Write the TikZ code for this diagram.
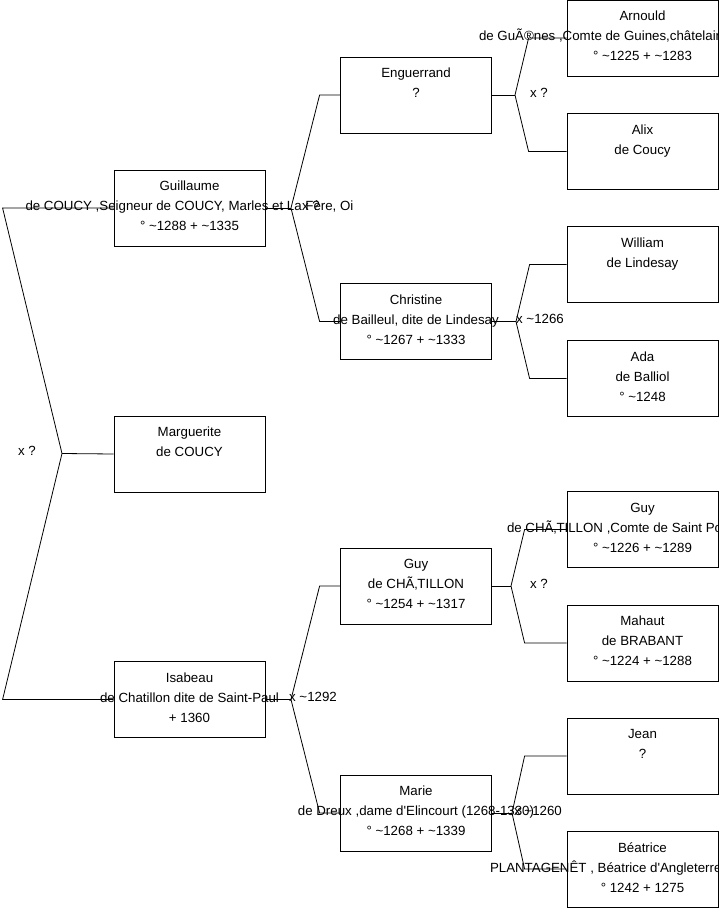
\documentclass[tikz,border=0pt]{standalone}
\usepackage{fontspec}
\setmainfont{Liberation Sans}
\newcommand{\circa}{\textasciitilde}

\begin{document}
\begin{tikzpicture}[
    x=1pt, y=-1pt,
    person/.style={
        rectangle, draw, line width=0.8pt,
        minimum width=151pt, minimum height=76pt, inner sep=0pt
    },
    ptext/.style={
        anchor=north, align=center, inner sep=0pt,
        font=\fontsize{13.3}{20}\selectfont
    },
    marr/.style={
        anchor=base, inner sep=0pt,
        font=\fontsize{13.3}{15}\selectfont
    },
    link/.style={line width=0.8pt},
]
\useasboundingbox (0,0) rectangle (719,908);

% generation 1
\node[person] (gui) at (189.5,208) {};
\node[person] (mrg) at (189.5,454) {};
\node[person] (isa) at (189.5,699.5) {};
% generation 2
\node[person] (eng) at (416,95) {};
\node[person] (chr) at (416,321.5) {};
\node[person] (guy) at (416,586) {};
\node[person] (mar) at (416,813) {};
% generation 3
\node[person] (arn) at (642.5,38) {};
\node[person] (alx) at (642.5,151.5) {};
\node[person] (wil) at (642.5,264.5) {};
\node[person] (ada) at (642.5,378.5) {};
\node[person] (gyp) at (642.5,529.5) {};
\node[person] (mah) at (642.5,643) {};
\node[person] (jea) at (642.5,756) {};
\node[person] (bea) at (642.5,869) {};

% texts
\node[ptext] (gui-t) at ([yshift=-11.5pt]gui.north)
    {Guillaume\\de COUCY ,Seigneur de COUCY, Marles et La Fère, Oi\\° \circa1288 + \circa1335};
\node[ptext] (mrg-t) at ([yshift=-11.5pt]mrg.north) {Marguerite\\de COUCY};
\node[ptext] (isa-t) at ([yshift=-11.5pt]isa.north)
    {Isabeau\\de Chatillon dite de Saint-Paul\\+ 1360};
\node[ptext] (eng-t) at ([yshift=-11.5pt]eng.north) {Enguerrand\\?};
\node[ptext] (chr-t) at ([yshift=-11.5pt]chr.north)
    {Christine\\de Bailleul, dite de Lindesay\\° \circa1267 + \circa1333};
\node[ptext] (guy-t) at ([yshift=-11.5pt]guy.north)
    {Guy\\de CHÃ‚TILLON\\° \circa1254 + \circa1317};
\node[ptext] (mar-t) at ([yshift=-11.5pt]mar.north)
    {Marie\\de Dreux ,dame d\textquotesingle Elincourt (1268-1330)\\° \circa1268 + \circa1339};
\node[ptext] (arn-t) at ([yshift=-11.5pt]arn.north)
    {Arnould\\\makebox[327pt][l]{de GuÃ®nes ,Comte de Guines,châtelain}\\° \circa1225 + \circa1283};
\node[ptext] (alx-t) at ([yshift=-11.5pt]alx.north) {Alix\\de Coucy};
\node[ptext] (wil-t) at ([yshift=-11.5pt]wil.north) {William\\de Lindesay};
\node[ptext] (ada-t) at ([yshift=-11.5pt]ada.north) {Ada\\de Balliol\\° \circa1248};
\node[ptext] (gyp-t) at ([yshift=-11.5pt]gyp.north)
    {Guy\\\makebox[271pt][l]{de CHÃ‚TILLON ,Comte de Saint Pol}\\° \circa1226 + \circa1289};
\node[ptext] (mah-t) at ([yshift=-11.5pt]mah.north)
    {Mahaut\\de BRABANT\\° \circa1224 + \circa1288};
\node[ptext] (jea-t) at ([yshift=-11.5pt]jea.north) {Jean\\?};
\node[ptext] (bea-t) at ([yshift=-11.5pt]bea.north)
    {Béatrice\\\makebox[305pt][l]{PLANTAGENÊT , Béatrice d\textquotesingle Angleterre}\\° 1242 + 1275};

% forks
\coordinate (f0) at (62,453.5);
\coordinate (f1) at (291,208);
\coordinate (f2) at (291,699.5);
\coordinate (f3) at (515,95);
\coordinate (f4) at (516,321.5);
\coordinate (f5) at (511,586);
\coordinate (f6) at (512,813);

\draw[link] (mrg.west) -- (f0);
\draw[link] (gui.west) -- ([xshift=-111pt]gui.west) -- (f0)
    -- ([xshift=-111pt]isa.west) -- (isa.west);
\draw[link] (gui.east) -- (f1);
\draw[link] (eng.west) -- ([xshift=-20.5pt]eng.west) -- (f1)
    -- ([xshift=-20.5pt]chr.west) -- (chr.west);
\draw[link] (isa.east) -- (f2);
\draw[link] (guy.west) -- ([xshift=-20.5pt]guy.west) -- (f2)
    -- ([xshift=-20.5pt]mar.west) -- (mar.west);
\draw[link] (eng.east) -- (f3);
\draw[link] (arn.west) -- ([xshift=-38pt]arn.west) -- (f3)
    -- ([xshift=-38pt]alx.west) -- (alx.west);
\draw[link] (chr.east) -- (f4);
\draw[link] (wil.west) -- ([xshift=-37pt]wil.west) -- (f4)
    -- ([xshift=-37pt]ada.west) -- (ada.west);
\draw[link] (guy.east) -- (f5);
\draw[link] (gyp.west) -- ([xshift=-42pt]gyp.west) -- (f5)
    -- ([xshift=-42pt]mah.west) -- (mah.west);
\draw[link] (mar.east) -- (f6);
\draw[link] (jea.west) -- ([xshift=-42pt]jea.west) -- (f6)
    -- ([xshift=-42pt]bea.west) -- (bea.west);

% marriages
\node[marr] (m0) at (27,455.5) {x ?};
\node[marr] (m1) at (311,210) {x ?};
\node[marr] (m2) at (313,701.5) {x \circa1292};
\node[marr] (m3) at (539,97) {x ?};
\node[marr] (m4) at (540,323.5) {x \circa1266};
\node[marr] (m5) at (539,588) {x ?};
\node[marr] (m6) at (538,815) {x \circa1260};
\end{tikzpicture}
\end{document}
